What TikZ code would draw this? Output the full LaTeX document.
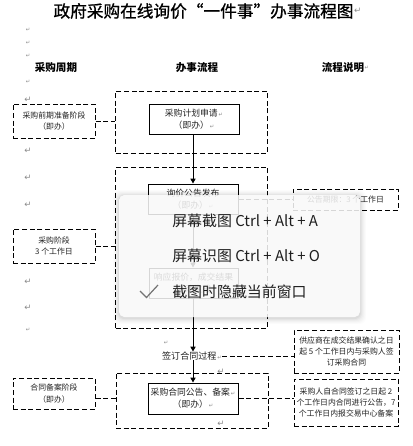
\documentclass[tikz,border=0pt]{standalone}
\usepackage{fontspec}
\setmainfont{Noto Sans CJK SC}
\newfontfamily\dv{DejaVu Sans}
\newfontfamily\ttlfont[FakeBold=0.9]{Noto Sans CJK SC}
\usetikzlibrary{arrows.meta,calc}
\definecolor{mk}{HTML}{8A8A8A}
\definecolor{tx}{HTML}{222222}
\newcommand{\pmk}{{\color{mk}\dv\fontsize{4}{4}\selectfont\,↵}}
\begin{document}
\begin{tikzpicture}[x=0.75pt,y=-0.75pt,
  dsh/.style={dash pattern=on 3.75pt off 2pt, line width=0.75pt},
  dbox/.style={draw, dsh, inner sep=0pt, align=center, text=tx, font=\fontsize{5.9}{8.6}\selectfont},
  sbox/.style={draw, line width=0.75pt, inner sep=0pt, align=center, text=tx, font=\fontsize{6.6}{9}\selectfont},
  cont/.style={draw, dsh, inner sep=0pt, minimum width=114pt},
  conn/.style={dsh},
  arr/.style={line width=0.75pt, -{Triangle[length=3.6pt,width=3.8pt]}},
  hdr/.style={font=\bfseries\fontsize{7.9}{8}\selectfont, inner sep=0pt},
  ret/.style={text=mk, font=\dv\fontsize{6.5}{6.5}\selectfont, inner sep=0pt},
  sret/.style={text=mk, font=\dv\fontsize{4}{4}\selectfont, inner sep=0pt},
  menu/.style={font=\fontsize{11.2}{12}\selectfont, anchor=west, inner sep=0pt, text=black!88}]
\useasboundingbox (0,0) rectangle (412,446);
\fill[white] (0,0) rectangle (412,446);

% title
\node[inner sep=0pt, font=\ttlfont\fontsize{12.5}{13}\selectfont] (title) at (203.5,11) {政府采购在线询价“一件事”办事流程图};
\node[ret, anchor=west] (tm) at (title.east) {↵};

% marks
\node[sret] (m1) at (28,30) {↵};
\node[sret] (m2) at (28,43) {↵};
\node[sret] (m3) at (28,56) {↵};
\node[sret] (m4) at (28,82) {↵};
\node[ret] (m5) at (28,100) {↵};
\node[ret] (m6) at (28,151) {↵};
\node[ret] (m7) at (28,178) {↵};
\node[ret] (m8) at (28,205) {↵};
\node[ret] (m9) at (28,282) {↵};
\node[ret] (m10) at (28,308) {↵};
\node[sret] (m11) at (28,330) {↵};
\node[sret] (m12) at (166,343) {↵};
\node[ret] (m13) at (221,372) {↵};
\node[ret] (m14) at (221,424) {↵};

% headers
\node[hdr] (h1) at (56,68) {采购周期};
\node[hdr] (h2) at (197,68) {办事流程};
\node[hdr] (h3) at (343,68) {流程说明};
\node[sret, anchor=west] (hm) at (h3.east) {↵};

% left column
\node[dbox, minimum width=61.5pt, minimum height=25.5pt] (lb1) at (54,121) {采购前期准备阶段\\（即办）};
\node[dbox, minimum width=61.5pt, minimum height=25.5pt] (lb2) at (54,246) {采购阶段\\3 个工作日};
\node[dbox, minimum width=61.5pt, minimum height=23.25pt] (lb3) at (54,393.5) {合同备案阶段\\（即办）};

% containers
\node[cont, minimum height=46.5pt] (c1) at (191.5,122) {};
\node[cont, minimum height=120.75pt] (c2) at (191.5,247.5) {};
\node[cont, minimum height=41.25pt] (c3) at (192,400.5) {};

% middle boxes
\node[sbox, minimum width=67.5pt, minimum height=22.5pt] (mb1) at (194,119) {采购计划申请\pmk\\（即办）\pmk};
\node[sbox, minimum width=67.5pt, minimum height=22.5pt] (mb2) at (193,199) {询价公告发布\\（即办）\pmk};
\node[sbox, minimum width=66.75pt, minimum height=22.5pt] (mb3) at (193.5,283) {响应报价，成交结果\\自动生成};
\node[sbox, minimum width=67.5pt, minimum height=23.25pt] (mb4) at (193,398.5) {采购合同公告、备案\pmk\\（即办）\pmk};

\node[inner sep=0pt, text=tx, font=\fontsize{6.8}{8}\selectfont] (st) at (192,356) {签订合同过程\pmk};

% right column
\node[dbox, minimum width=78.75pt, minimum height=15.75pt] (rb2) at (345.5,199.5) {公告期限：3 个工作日};
\node[dbox, minimum width=78.75pt, minimum height=32.25pt] (rb3) at (346.5,351.5) {供应商在成交结果确认之日\\起 5 个工作日内与采购人签\\订采购合同};
\node[dbox, minimum width=78pt, minimum height=35.25pt] (rb4) at (346,402.5) {采购人自合同签订之日起 2\\个工作日内合同进行公告，7\\个工作日内报交易中心备案};

% connectors
\draw[conn] (lb1.east) -- (c1.west |- lb1.east);
\draw[conn] (lb2.east) -- (c2.west |- lb2.east);
\draw[conn] (lb3.east |- mb4.east) -- (c3.west |- mb4.east);
\draw[conn] (mb2.east) -- (rb2.west |- mb2.east);
\draw[conn] (st.east) -- (rb3.west |- st.east);
\draw[conn] (mb4.east) -- (rb4.west |- mb4.east);

\draw[arr] (mb2.north |- mb1.south) -- (mb2.north);
\draw[arr] (mb2.south) -- (mb3.north -| mb2.south);
\draw[arr] (mb3.south -| st.north) ++(1,0) coordinate (a3) (mb3.south -| a3) -- (st.north -| a3);
\draw[arr] (st.south -| a3) -- (mb4.north -| a3);

% popup menu
\foreach \i/\o in {6/0.012,5/0.015,4/0.02,3/0.025,2/0.03,1/0.04}{
  \fill[black, opacity=\o, rounded corners=5pt] (119-\i,195-\i+1) rectangle (360+\i,317+\i+1);
}
\fill[white, opacity=0.84, rounded corners=4pt] (119,195) rectangle (360,317);
\node[menu] (p1) at (172,221) {屏幕截图 Ctrl + Alt + A};
\node[menu] (p2) at (172,256) {屏幕识图 Ctrl + Alt + O};
\node[menu] (p3) at (172,292) {截图时隐藏当前窗口};
\draw[black!55, line width=0.9pt] (140,291) -- (146.5,297.5) -- (158,285);
\end{tikzpicture}
\end{document}
